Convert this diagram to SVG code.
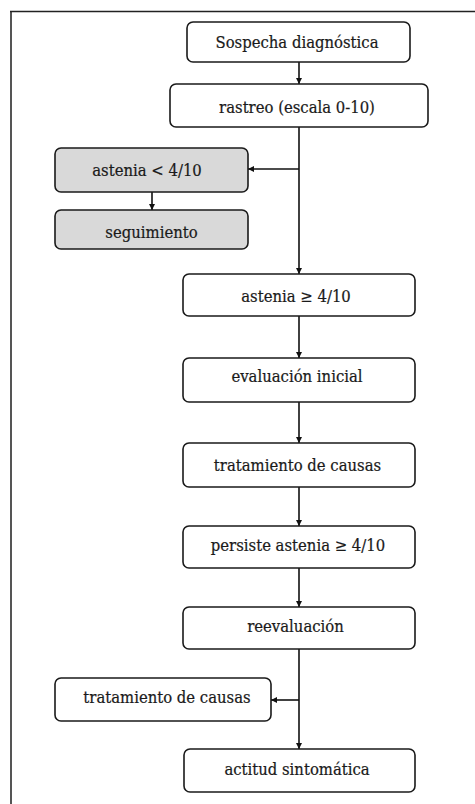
<svg xmlns="http://www.w3.org/2000/svg" width="475" height="804" viewBox="0 0 475 804">
<defs>
<marker id="ah" viewBox="0 0 10 10" refX="10" refY="5" markerWidth="6" markerHeight="6" orient="auto" markerUnits="userSpaceOnUse">
<path d="M0,0 L10,5 L0,10 Z" fill="#111"/>
</marker>
<style>
.box{fill:#fff;stroke:#1a1a1a;stroke-width:1.6}
.gray{fill:#d9d9d9}
.t{font-size:16.5px;fill:#1a1a1a;stroke:#1a1a1a;stroke-width:0.2;text-anchor:middle}
.c{stroke:#111;stroke-width:1.6;fill:none}
</style>
</defs>
<rect width="475" height="804" fill="#fff"/>
<path d="M11,804 L11,11" stroke="#555" stroke-width="2" fill="none"/>
<path d="M10,11.5 L475,11.5" stroke="#222" stroke-width="1.5" fill="none"/>
<g id="connectors">
<path class="c" d="M299,62 L299,84" marker-end="url(#ah)"/>
<path class="c" d="M299,127 L299,274" marker-end="url(#ah)"/>
<path class="c" d="M299,169 L248,169" marker-end="url(#ah)"/>
<path class="c" d="M152,192 L152,210" marker-end="url(#ah)"/>
<path class="c" d="M299,316 L299,358" marker-end="url(#ah)"/>
<path class="c" d="M299,402 L299,443" marker-end="url(#ah)"/>
<path class="c" d="M299,487 L299,526" marker-end="url(#ah)"/>
<path class="c" d="M299,568 L299,607" marker-end="url(#ah)"/>
<path class="c" d="M299,649 L299,749" marker-end="url(#ah)"/>
<path class="c" d="M299,700 L271,700" marker-end="url(#ah)"/>
</g>
<g font-family="'DejaVu Serif Condensed', 'Liberation Serif', serif">
<g id="n1"><rect class="box" x="187" y="22" width="223" height="40" rx="6"/><text class="t" x="297" y="47.7">Sospecha diagnóstica</text></g>
<g id="n2"><rect class="box" x="170" y="84" width="258" height="43" rx="6"/><text class="t" x="297" y="112.7">rastreo (escala 0-10)</text></g>
<g id="n3"><rect class="box gray" x="55" y="148" width="193" height="44" rx="6"/><text class="t" x="147" y="176">astenia &lt; 4/10</text></g>
<g id="n4"><rect class="box gray" x="55" y="210" width="193" height="39" rx="6"/><text class="t" x="151.5" y="238">seguimiento</text></g>
<g id="n5"><rect class="box" x="183" y="274" width="232" height="42" rx="6"/><text class="t" x="296" y="301.7">astenia ≥ 4/10</text></g>
<g id="n6"><rect class="box" x="183" y="358" width="232" height="44" rx="6"/><text class="t" x="297" y="382.3">evaluación inicial</text></g>
<g id="n7"><rect class="box" x="183" y="443" width="232" height="44" rx="6"/><text class="t" x="297.5" y="470.7">tratamiento de causas</text></g>
<g id="n8"><rect class="box" x="183" y="526" width="232" height="42" rx="6"/><text class="t" x="298" y="550.7">persiste astenia ≥ 4/10</text></g>
<g id="n9"><rect class="box" x="183" y="607" width="232" height="42" rx="6"/><text class="t" x="295.5" y="631.7">reevaluación</text></g>
<g id="n10"><rect class="box" x="55" y="678" width="216" height="43" rx="6"/><text class="t" x="167" y="702.7">tratamiento de causas</text></g>
<g id="n11"><rect class="box" x="184" y="749" width="231" height="43" rx="6"/><text class="t" x="297" y="775">actitud sintomática</text></g>
</g>
</svg>
